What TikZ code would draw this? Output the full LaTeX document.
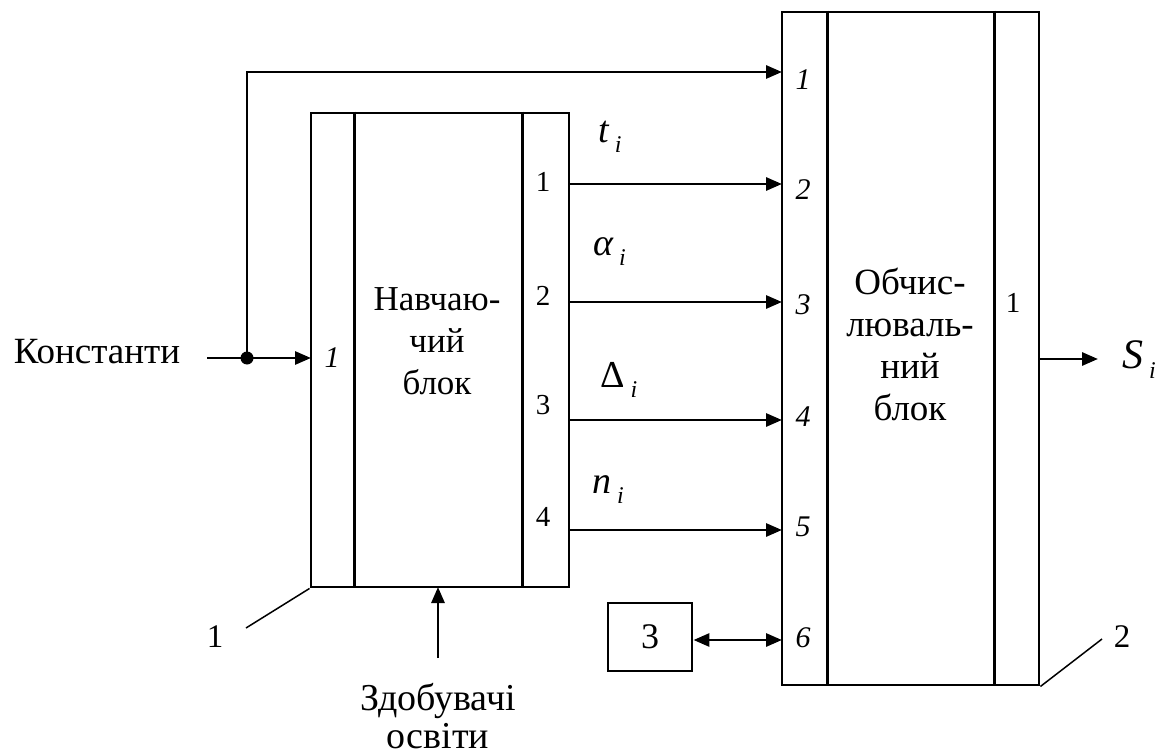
\documentclass[tikz,border=0pt]{standalone}
\usepackage{fontspec}
\setmainfont{Liberation Serif}
\usetikzlibrary{arrows.meta}
\newcommand\labsub[1]{#1\kern6pt\raisebox{-10pt}{\fontsize{24}{24}\selectfont\itshape i}}
\begin{document}
\begin{tikzpicture}[x=1pt,y=-1pt,
  ln/.style={line width=2.9pt},
  tip/.tip={Triangle[length=16pt,width=13pt]},
  arr/.style={ln,-tip},
  darr/.style={ln,tip-tip},
  lead/.style={line width=1.5pt},
  blk/.style={draw,line width=2.9pt,inner sep=0pt},
  txt/.style={font=\fontsize{35}{42}\selectfont,align=center,inner sep=0pt},
  port/.style={font=\fontsize{29}{30}\selectfont,inner sep=0pt},
  iport/.style={font=\itshape\fontsize{30}{30}\selectfont,inner sep=0pt},
  sym/.style={font=\itshape\fontsize{38}{38}\selectfont,inner sep=0pt,anchor=west},
  num/.style={font=\fontsize{33}{33}\selectfont,inner sep=0pt}]
\useasboundingbox (0,0) rectangle (1172,754);

% blocks
\node[blk,minimum width=258pt,minimum height=474pt] (L) at (440,350) {};
\node[blk,minimum width=257pt,minimum height=673pt] (R) at (910.5,348.5) {};
\node[blk,minimum width=84pt,minimum height=68pt,font=\fontsize{36}{36}\selectfont] (B3) at (650,637) {3};

% inner dividers
\draw[ln] ([xshift=45pt]L.north west) -- ([xshift=45pt]L.south west);
\draw[ln] ([xshift=-48pt]L.north east) -- ([xshift=-48pt]L.south east);
\draw[ln] ([xshift=47pt]R.north west) -- ([xshift=47pt]R.south west);
\draw[ln] ([xshift=-46pt]R.north east) -- ([xshift=-46pt]R.south east);

% block texts
\node[txt] (Lt) at (437,341) {Навчаю-\\чий\\блок};
\node[txt,font=\fontsize{37}{42}\selectfont] (Rt) at (910,344) {Обчис-\\люваль-\\ний\\блок};
\node[port] (Rout1) at (1013,303) {1};

% left block ports
\node[iport] (Lin1) at (332,358) {1};
\node[port] (Lp1) at (543,182) {1};
\node[port] (Lp2) at (543,296) {2};
\node[port] (Lp3) at (543,405) {3};
\node[port] (Lp4) at (543,517) {4};

% right block ports
\node[iport] (Rp1) at (803,80) {1};
\node[iport] (Rp2) at (803,190) {2};
\node[iport] (Rp3) at (803,305) {3};
\node[iport] (Rp4) at (803,417) {4};
\node[iport] (Rp5) at (803,527) {5};
\node[iport] (Rp6) at (803,638) {6};

% coordinates of connector ends
\coordinate (l1) at (569,184);
\coordinate (l2) at (569,302);
\coordinate (l3) at (569,420);
\coordinate (l4) at (569,530);
\coordinate (r1) at (782,72);
\coordinate (r2) at (782,184);
\coordinate (r3) at (782,302);
\coordinate (r4) at (782,420);
\coordinate (r5) at (782,530);
\coordinate (r6) at (782,640);
\coordinate (Cin) at (207,358);
\coordinate (D) at (247,358);
\coordinate (Lin) at (311,358);
\coordinate (ro) at (1039,359);
\coordinate (So) at (1098,359);
\coordinate (zb) at (438,658);
\coordinate (zt) at (438,587);
\coordinate (k1) at (246,628);
\coordinate (k2) at (1102,639);

% labels
\node[txt,font=\fontsize{37}{42}\selectfont,anchor=center] (K) at (97,352) {Константи};
\node[sym] (ti) at (598,137) {\labsub{t}};
\node[sym] (ai) at (593,252) {\labsub{α}};
\node[sym,font=\fontsize{38}{38}\selectfont] (di) at (600,380) {\labsub{Δ}};
\node[sym] (ni) at (592,490) {\labsub{n}};
\node[sym,font=\itshape\fontsize{42}{42}\selectfont] (Si) at (1122,360) {\labsub{S}};
\node[txt,font=\fontsize{38}{38}\selectfont,anchor=base] (Z1) at (438,710) {Здобувачі};
\node[txt,font=\fontsize{38}{38}\selectfont,anchor=base] (Z2) at (438,748) {освіти};
\node[num] (n1) at (215,637) {1};
\node[num] (n2) at (1122,637) {2};

% connectors
\draw[arr] (Cin) -- (Lin);
\fill (D) circle (6.5pt);
\draw[arr] (D) |- (r1);
\draw[arr] (l1) -- (r2);
\draw[arr] (l2) -- (r3);
\draw[arr] (l3) -- (r4);
\draw[arr] (l4) -- (r5);
\draw[darr] (B3.east |- r6) -- (r6);
\draw[arr] (ro) -- (So);
\draw[arr] (zb) -- (zt);
\draw[lead] (L.south west) -- (k1);
\draw[lead] (R.south east) -- (k2);
\end{tikzpicture}
\end{document}
